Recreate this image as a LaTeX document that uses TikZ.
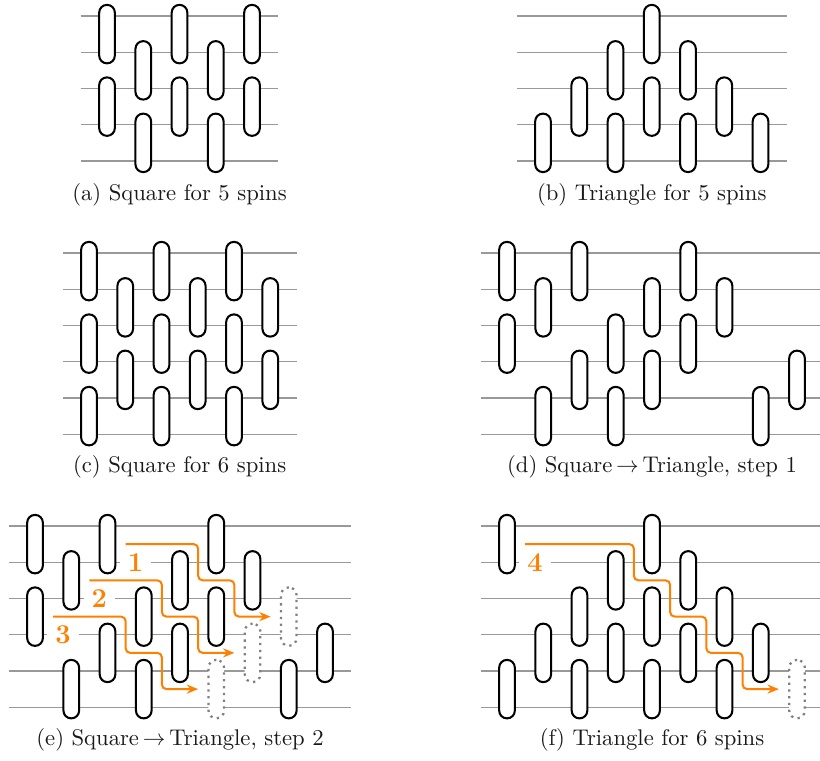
\documentclass[tikz,border=0pt]{standalone}
\usepackage{tikz}
\usetikzlibrary{arrows.meta}

\begin{document}
\begin{tikzpicture}[x=16pt,y=16pt,>={Stealth[length=5pt,width=4pt]},
  wire/.style={draw=black!40,line width=0.55pt},
  gate/.style={rectangle,rounded corners=3.4pt,draw=black,fill=white,line width=0.9pt,minimum width=6.9pt,minimum height=25.8pt,inner sep=0pt},
  ghost/.style={gate,draw=black!50,line width=1pt,dotted},
  move/.style={->,draw=orange,line width=0.9pt,rounded corners=2pt},
  steplabel/.style={fill=white,text=orange,font=\large\bfseries,inner sep=3.5pt},
  caption/.style={anchor=base,text=black!90}]
\path[use as bounding box] (0,0) rectangle (22.62,-20.966);
\clip (0,0) rectangle (22.62,-20.966);

% (a) square, 5 spins
\begin{scope}[shift={(2.952,-0.441)}]
\foreach \r in {0,...,4} \draw[wire] (-0.73,-\r) -- (4.73,-\r);
\foreach \c/\r in {0/0,0/2,1/1,1/3,2/0,2/2,3/1,3/3,4/0,4/2}
  \node[gate] (a-\c-\r) at (\c,-\r-0.5) {};
\node[caption] (a-cap) at (2,-5.08) {(a) Square for 5 spins};
\end{scope}

% (b) triangle, 5 spins
\begin{scope}[shift={(14.979,-0.441)}]
\foreach \r in {0,...,4} \draw[wire] (-0.73,-\r) -- (6.73,-\r);
\foreach \c/\r in {0/3,1/2,2/1,2/3,3/0,3/2,4/1,4/3,5/2,6/3}
  \node[gate] (b-\c-\r) at (\c,-\r-0.5) {};
\node[caption] (b-cap) at (3,-5.08) {(b) Triangle for 5 spins};
\end{scope}

% (c) square, 6 spins
\begin{scope}[shift={(2.455,-6.979)}]
\foreach \r in {0,...,5} \draw[wire] (-0.73,-\r) -- (5.73,-\r);
\foreach \c/\r in {0/0,0/2,0/4,1/1,1/3,2/0,2/2,2/4,3/1,3/3,4/0,4/2,4/4,5/1,5/3}
  \node[gate] (c-\c-\r) at (\c,-\r-0.5) {};
\node[caption] (c-cap) at (2.5,-6.05) {(c) Square for 6 spins};
\end{scope}

% (d) first step
\begin{scope}[shift={(13.986,-6.979)}]
\foreach \r in {0,...,5} \draw[wire] (-0.73,-\r) -- (8.73,-\r);
\foreach \c/\r in {0/0,0/2,1/1,1/4,2/0,2/3,3/2,3/4,4/1,4/3,5/0,5/2,6/1,7/4,8/3}
  \node[gate] (d-\c-\r) at (\c,-\r-0.5) {};
\node[caption] (d-cap) at (4,-6.05) {(d) Square$\,\rightarrow\,$Triangle, step 1};
\end{scope}

% (e) second step, gates 1-3 moved
\begin{scope}[shift={(0.966,-14.51)}]
\foreach \r in {0,...,5} \draw[wire] (-0.73,-\r) -- (8.73,-\r);
\foreach \c/\r in {0/0,0/2,1/1,1/4,2/0,2/3,3/2,3/4,4/1,4/3,5/0,5/2,6/1,7/4,8/3}
  \node[gate] (e-\c-\r) at (\c,-\r-0.5) {};
\foreach \c/\r in {5/4,6/3,7/2}
  \node[ghost] (e-g-\c) at (\c,-\r-0.5) {};
\node[steplabel] (e-l1) at (2.77,-1) {1};
\node[steplabel] (e-l2) at (1.77,-2) {2};
\node[steplabel] (e-l3) at (0.77,-3) {3};
\coordinate (e-s1) at (2.5,-0.5);
\coordinate (e-s2) at (1.5,-1.5);
\coordinate (e-s3) at (0.5,-2.5);
\draw[move] (e-s1) -- ++(2,0) -- ++(0,-1) -- ++(1,0) -- ++(0,-1) -- ++(1,0);
\draw[move] (e-s2) -- ++(2,0) -- ++(0,-1) -- ++(1,0) -- ++(0,-1) -- ++(1,0);
\draw[move] (e-s3) -- ++(2,0) -- ++(0,-1) -- ++(1,0) -- ++(0,-1) -- ++(1,0);
\node[caption] (e-cap) at (4,-6.05) {(e) Square$\,\rightarrow\,$Triangle, step 2};
\end{scope}

% (f) triangle, 6 spins
\begin{scope}[shift={(13.986,-14.51)}]
\foreach \r in {0,...,5} \draw[wire] (-0.73,-\r) -- (8.73,-\r);
\foreach \c/\r in {0/0,0/4,1/3,2/2,2/4,3/1,3/3,4/0,4/2,4/4,5/1,5/3,6/2,6/4,7/3}
  \node[gate] (f-\c-\r) at (\c,-\r-0.5) {};
\node[ghost] (f-g-8) at (8,-4.5) {};
\node[steplabel] (f-l4) at (0.77,-1) {4};
\coordinate (f-s4) at (0.5,-0.5);
\draw[move] (f-s4) -- ++(3,0) -- ++(0,-1) -- ++(1,0) -- ++(0,-1) -- ++(1,0)
  -- ++(0,-1) -- ++(1,0) -- ++(0,-1) -- ++(1,0);
\node[caption] (f-cap) at (4,-6.05) {(f) Triangle for 6 spins};
\end{scope}
\end{tikzpicture}
\end{document}
